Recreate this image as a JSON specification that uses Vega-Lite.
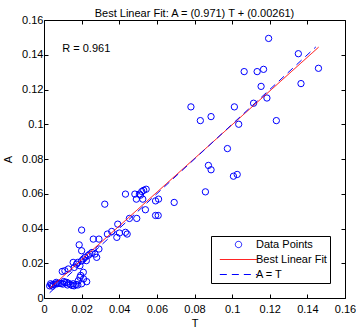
{
  "$schema": "https://vega.github.io/schema/vega-lite/v6.json",
  "width": 301,
  "height": 278,
  "autosize": {"type": "none"},
  "padding": {"left": 44, "top": 20, "right": 11, "bottom": 32},
  "background": "white",
  "title": {"text": "Best Linear Fit:  A = (0.971) T + (0.00261)", "font": "Liberation Sans", "fontSize": 11, "fontWeight": "normal", "color": "#000", "anchor": "middle", "offset": -5},
  "config": {
    "view": {"stroke": "#000", "strokeWidth": 1},
    "axis": {"labelFont": "Liberation Sans", "labelFontSize": 11, "labelColor": "#000", "tickColor": "#000", "tickSize": -4, "domain": false, "grid": false, "titleFont": "Liberation Sans", "titleFontSize": 11, "titleFontWeight": "normal", "titleColor": "#000"},
    "legend": {"labelFont": "Liberation Sans", "labelFontSize": 11, "labelColor": "#000", "orient": "bottom-right", "offset": 15, "strokeColor": "#000", "fillColor": "#fff", "padding": 3, "cornerRadius": 0, "symbolSize": 40, "symbolStrokeWidth": 1, "symbolOffset": 19, "labelOffset": 12, "rowPadding": 3}
  },
  "datasets": {
    "pts": [
      {"T": 0.1194, "A": 0.1494}, {"T": 0.1352, "A": 0.1406}, {"T": 0.1459, "A": 0.1322}, {"T": 0.1064, "A": 0.1303},
      {"T": 0.1133, "A": 0.1303}, {"T": 0.1167, "A": 0.1316}, {"T": 0.1366, "A": 0.1234}, {"T": 0.1154, "A": 0.1218},
      {"T": 0.1185, "A": 0.1151}, {"T": 0.1114, "A": 0.1121}, {"T": 0.0781, "A": 0.11}, {"T": 0.1012, "A": 0.11},
      {"T": 0.0831, "A": 0.1021}, {"T": 0.0888, "A": 0.1044}, {"T": 0.1035, "A": 0.1}, {"T": 0.1235, "A": 0.1021},
      {"T": 0.0975, "A": 0.086}, {"T": 0.0874, "A": 0.0763}, {"T": 0.0888, "A": 0.0738}, {"T": 0.1007, "A": 0.0701},
      {"T": 0.1027, "A": 0.0711}, {"T": 0.0858, "A": 0.0611}, {"T": 0.0692, "A": 0.055}, {"T": 0.0593, "A": 0.0559},
      {"T": 0.0609, "A": 0.0569}, {"T": 0.0593, "A": 0.0475}, {"T": 0.0607, "A": 0.0475}, {"T": 0.0323, "A": 0.054},
      {"T": 0.0433, "A": 0.0598}, {"T": 0.0483, "A": 0.0598}, {"T": 0.0507, "A": 0.0598}, {"T": 0.052, "A": 0.0613},
      {"T": 0.053, "A": 0.062}, {"T": 0.0543, "A": 0.0626}, {"T": 0.0491, "A": 0.0569}, {"T": 0.0525, "A": 0.0569},
      {"T": 0.0513, "A": 0.0592}, {"T": 0.0539, "A": 0.0508}, {"T": 0.0454, "A": 0.0458}, {"T": 0.0493, "A": 0.0458},
      {"T": 0.02, "A": 0.0391}, {"T": 0.0392, "A": 0.0425}, {"T": 0.0433, "A": 0.0378}, {"T": 0.0442, "A": 0.0368},
      {"T": 0.036, "A": 0.0383}, {"T": 0.0337, "A": 0.0368}, {"T": 0.0387, "A": 0.0349}, {"T": 0.0401, "A": 0.0374},
      {"T": 0.0262, "A": 0.0339}, {"T": 0.0292, "A": 0.0339}, {"T": 0.0187, "A": 0.0306}, {"T": 0.02, "A": 0.0272},
      {"T": 0.0292, "A": 0.0282}, {"T": 0.0244, "A": 0.0253}, {"T": 0.0271, "A": 0.0253}, {"T": 0.028, "A": 0.0234},
      {"T": 0.0218, "A": 0.0234}, {"T": 0.0209, "A": 0.0224}, {"T": 0.0155, "A": 0.0205}, {"T": 0.0173, "A": 0.0195},
      {"T": 0.0161, "A": 0.0176}, {"T": 0.0191, "A": 0.0186}, {"T": 0.02, "A": 0.0214}, {"T": 0.0179, "A": 0.0205},
      {"T": 0.0097, "A": 0.0153}, {"T": 0.0111, "A": 0.0157}, {"T": 0.0129, "A": 0.0167}, {"T": 0.0209, "A": 0.0148},
      {"T": 0.0191, "A": 0.0119}, {"T": 0.0182, "A": 0.0099}, {"T": 0.0227, "A": 0.0094}, {"T": 0.003, "A": 0.007},
      {"T": 0.004, "A": 0.0075}, {"T": 0.005, "A": 0.0078}, {"T": 0.006, "A": 0.008}, {"T": 0.007, "A": 0.0082},
      {"T": 0.008, "A": 0.0085}, {"T": 0.009, "A": 0.0083}, {"T": 0.01, "A": 0.008}, {"T": 0.011, "A": 0.0088},
      {"T": 0.012, "A": 0.009}, {"T": 0.013, "A": 0.0085}, {"T": 0.014, "A": 0.0078}, {"T": 0.015, "A": 0.0072},
      {"T": 0.016, "A": 0.007}, {"T": 0.017, "A": 0.0078}, {"T": 0.018, "A": 0.0075}, {"T": 0.0035, "A": 0.0082},
      {"T": 0.0045, "A": 0.0068}, {"T": 0.0065, "A": 0.009}, {"T": 0.0105, "A": 0.0095}, {"T": 0.0125, "A": 0.0075},
      {"T": 0.0155, "A": 0.0082}, {"T": 0.02, "A": 0.0082}, {"T": 0.021, "A": 0.011}, {"T": 0.0195, "A": 0.013},
      {"T": 0.0235, "A": 0.0245}, {"T": 0.0255, "A": 0.0262}, {"T": 0.0225, "A": 0.0215}
    ],
    "lines": [
      {"T": 0.003, "A": 0.00552, "series": "Best Linear Fit"},
      {"T": 0.146, "A": 0.14438, "series": "Best Linear Fit"},
      {"T": 0.003, "A": 0.003, "series": "A = T"},
      {"T": 0.1445, "A": 0.1445, "series": "A = T"}
    ],
    "lbl": [{"T": 0.0097, "A": 0.1431, "text": "R = 0.961"}]
  },
  "layer": [
    {
      "data": {"name": "pts"},
      "transform": [{"calculate": "'Data Points'", "as": "series"}],
      "mark": {"type": "point", "filled": false, "size": 40, "strokeWidth": 1, "opacity": 1},
      "encoding": {
        "x": {"field": "T", "type": "quantitative", "scale": {"domain": [0, 0.16], "nice": false}, "axis": {"orient": "bottom", "title": "T", "values": [0, 0.02, 0.04, 0.06, 0.08, 0.1, 0.12, 0.14, 0.16], "format": "~g", "labelPadding": 9, "titlePadding": 3, "labelFlush": false}},
        "y": {"field": "A", "type": "quantitative", "scale": {"domain": [0, 0.16], "nice": false}, "axis": {"orient": "left", "title": "A", "values": [0, 0.02, 0.04, 0.06, 0.08, 0.1, 0.12, 0.14, 0.16], "format": "~g", "labelPadding": 5, "titlePadding": 8, "labelFlush": false}},
        "color": {
          "field": "series", "type": "nominal",
          "scale": {"domain": ["Data Points", "Best Linear Fit", "A = T"], "range": ["#0000ff", "#ff0000", "#0000ff"]},
          "legend": {"title": null}
        },
        "shape": {
          "field": "series", "type": "nominal",
          "scale": {"domain": ["Data Points", "Best Linear Fit", "A = T"], "range": ["circle", "M-5.9,0L5.9,0", "M-5.9,0L5.9,0"]},
          "legend": {"title": null}
        }
      }
    },
    {
      "data": {"name": "lines"},
      "mark": {"type": "line", "strokeWidth": 1},
      "encoding": {
        "x": {"field": "T", "type": "quantitative", "axis": null},
        "y": {"field": "A", "type": "quantitative", "axis": null},
        "color": {"field": "series", "type": "nominal", "legend": {"title": null}},
        "strokeDash": {"field": "series", "type": "nominal", "scale": {"domain": ["Data Points", "Best Linear Fit", "A = T"], "range": [[1, 0], [1, 0], [7, 5]]}, "legend": {"title": null}}
      }
    },
    {
      "data": {"name": "lbl"},
      "mark": {"type": "text", "align": "left", "baseline": "middle", "font": "Liberation Sans", "fontSize": 11, "color": "#000"},
      "encoding": {
        "x": {"field": "T", "type": "quantitative", "axis": {"orient": "top", "title": null, "labels": false, "values": [0, 0.02, 0.04, 0.06, 0.08, 0.1, 0.12, 0.14, 0.16]}},
        "y": {"field": "A", "type": "quantitative", "axis": {"orient": "right", "title": null, "labels": false, "values": [0, 0.02, 0.04, 0.06, 0.08, 0.1, 0.12, 0.14, 0.16]}},
        "text": {"field": "text"}
      }
    }
  ],
  "resolve": {"axis": {"x": "independent", "y": "independent"}}
}
